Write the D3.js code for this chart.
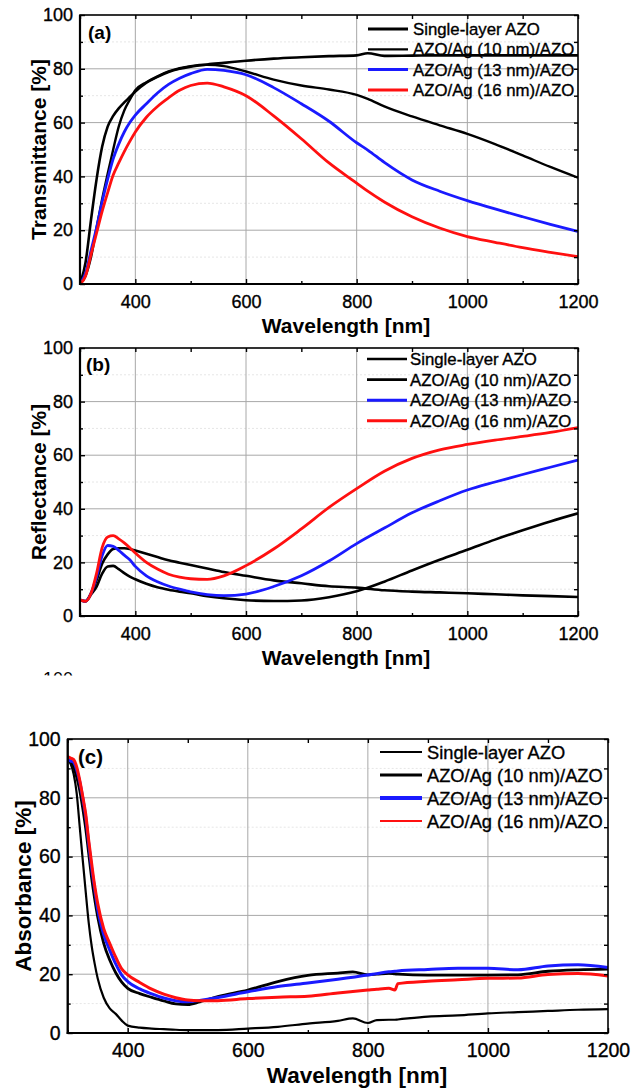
<!DOCTYPE html>
<html>
<head>
<meta charset="utf-8">
<script src="https://cdn.jsdelivr.net/npm/d3@7"></script>
<style>
  body { margin: 0; background: #fff; }
  svg { display: block; }
  text { font-family: "Liberation Sans", Arial, Helvetica, sans-serif; }
</style>
</head>
<body>
<svg id="fig" width="635" height="1091"></svg>
<script>
// ---- shared labels and ticks ----
const seriesNames = ["Single-layer AZO", "AZO/Ag (10 nm)/AZO", "AZO/Ag (13 nm)/AZO", "AZO/Ag (16 nm)/AZO"];
const seriesColors = ["#000000", "#000000", "#1a1aff", "#ff1010"];
const xTicks = [400, 600, 800, 1000, 1200];
const xMinor = [300, 500, 700, 900, 1100];
const yTicks = [0, 20, 40, 60, 80, 100];
const yMinor = [10, 30, 50, 70, 90];

// ---- (a) transmittance ----
const wlA = [300, 310, 320, 330, 340, 350, 360, 370, 380, 390, 400, 420, 440, 460, 480, 500, 530, 560, 600, 650, 700, 750, 800, 820, 850, 900, 950, 1000, 1050, 1100, 1150, 1200];
const transSingle = [0, 8, 24, 39, 51, 58.5, 62.5, 65.3, 67.5, 69.5, 71.5, 74.8, 77, 78.8, 80, 80.8, 81.6, 82.2, 83, 83.8, 84.3, 84.7, 85, 85.8, 84.8, 84.9, 85, 85, 85, 85, 85, 85];
const trans10 = [0, 3, 10, 21, 31.5, 41, 50, 58.5, 64.5, 68.5, 72, 75, 77.2, 79, 80.2, 81, 81.5, 81, 79, 76, 73.8, 72.3, 70.3, 68.8, 66, 62.3, 59, 55.8, 52, 47.8, 43.5, 39.5];
const trans13 = [0, 4, 12.5, 21, 30.5, 39, 46.5, 52, 56.5, 60, 62.8, 67, 71, 74.2, 76.5, 78.2, 79.8, 79.4, 77.8, 73, 67, 60.5, 52.5, 49.8, 45.2, 38.7, 34.5, 31, 27.9, 25, 22.2, 19.5];
const trans16 = [0, 3, 11, 19, 27, 34, 40.5, 45, 49.2, 53, 56.5, 62, 66, 69.2, 72, 73.8, 74.7, 73.3, 70, 62.5, 54, 45, 37.5, 34.5, 30.5, 25, 20.8, 17.6, 15.5, 13.5, 11.8, 10.2];

// ---- (b) reflectance ----
const wlB = [300, 310, 320, 330, 340, 350, 360, 370, 380, 390, 400, 420, 440, 460, 480, 500, 530, 560, 600, 650, 700, 750, 800, 850, 900, 950, 1000, 1050, 1100, 1150, 1200];
const reflSingle = [6, 5.5, 8.5, 13.4, 19.5, 23, 25, 25.3, 25.3, 25, 24.4, 23.2, 22, 20.8, 19.9, 19, 17.7, 16.4, 15, 13.3, 12.2, 11.1, 10.6, 9.6, 9.1, 8.8, 8.5, 8.1, 7.7, 7.4, 7.1];
const refl10 = [6, 5.5, 8, 11, 15.8, 18.5, 18.7, 17.5, 16, 14.7, 13.7, 12, 10.7, 9.8, 9.1, 8.5, 7.4, 6.6, 5.9, 5.6, 5.8, 7, 9.2, 12.8, 17, 21, 24.7, 28.5, 32, 35.3, 38.3];
const refl13 = [6, 5.5, 8.5, 14.7, 22.5, 26.3, 26, 24.5, 22.7, 21, 18.5, 15, 12.8, 11.2, 10, 9, 8, 7.6, 8.2, 11, 15, 20.5, 27, 32.8, 38.5, 43, 47, 50, 52.8, 55.5, 58.2];
const refl16 = [6, 5.5, 8.5, 16, 25.5, 29.5, 30, 28.8, 27.3, 25.5, 23.5, 20, 17.5, 15.6, 14.5, 13.9, 13.7, 15, 18.8, 25, 32.5, 40.5, 47.5, 54, 58.8, 62, 64, 65.6, 67, 68.5, 70.3];

// ---- (c) absorbance ----
const wlC = [300, 305, 310, 315, 320, 325, 330, 335, 340, 345, 350, 360, 370, 380, 390, 400, 420, 440, 460, 480, 500, 520, 550, 600, 650, 700, 750, 775, 800, 815, 835, 845, 850, 900, 950, 1000, 1050, 1100, 1150, 1200];
const absSingle = [92.9, 91.5, 88, 81.5, 70.2, 59, 48, 37.5, 29.5, 23.5, 18.5, 12, 8.4, 6.5, 4.2, 2.5, 1.8, 1.5, 1.3, 1.1, 1.0, 1.0, 1.0, 1.5, 2.1, 3.2, 4.1, 5, 3.4, 4.4, 4.5, 4.5, 4.6, 5.6, 6.0, 6.7, 7.1, 7.5, 7.9, 8.1];
const abs10 = [92.9, 92.2, 90.5, 87, 82.6, 76.5, 69.5, 61, 52.5, 45.5, 39.5, 30.5, 24.8, 20.5, 17.3, 15.2, 13.4, 12.1, 10.9, 9.9, 9.7, 10.6, 12.4, 14.6, 17.5, 19.6, 20.4, 20.8, 19.8, 20, 20.3, 20.1, 20, 19.7, 19.7, 19.7, 19.8, 21, 21.5, 21.7];
const abs13 = [93, 92.5, 92, 89.5, 85.5, 80, 73.5, 64.5, 56, 49, 42, 33.5, 28.2, 23.5, 19.7, 17.5, 15, 13.3, 11.9, 11, 10.6, 11.1, 12.1, 14, 15.8, 17, 18.3, 19, 19.7, 20.2, 20.8, 21, 21.1, 21.6, 22, 22, 21.5, 22.8, 23.2, 22.3];
const abs16 = [94, 93.5, 93, 90.5, 86, 80.5, 74.5, 65.5, 57.5, 50, 44, 35.5, 30.5, 25.8, 21.8, 19.8, 17.2, 14.9, 13.2, 12, 11.2, 11, 11, 11.7, 12.2, 12.5, 13.6, 14.1, 14.6, 14.9, 15.2, 14.6, 16.8, 17.6, 18.1, 18.6, 18.7, 19.9, 20.2, 19.4];

// ---- layout of the three panels ----
const panels = [
  { key: "a", label: "(a)", yTitle: "Transmittance [%]", wl: wlA, values: [transSingle, trans10, trans13, trans16],
    l: 80, t: 15, r: 578, b: 284, tickFs: 18, titleFs: 21, tickPad: 11,
    curveW: [2.6, 2.4, 2.8, 2.8], legendW: [3.2, 2.2, 3, 3],
    legend: { x0: 368, x1: 408, tx: 413, y0: 29, dy: 20.3, fs: 16.8 },
    xTitle: { x: 346, y: 333 }, yTitleX: 46, labelPos: { x: 88, y: 39 }, labelFs: 19 },
  { key: "b", label: "(b)", yTitle: "Reflectance [%]", wl: wlB, values: [reflSingle, refl10, refl13, refl16],
    l: 80, t: 348, r: 578, b: 616, tickFs: 18, titleFs: 21, tickPad: 11,
    curveW: [2.6, 2.6, 2.8, 2.8], legendW: [2.6, 2.6, 3, 3],
    legend: { x0: 367, x1: 407, tx: 410, y0: 359, dy: 20.6, fs: 16.8 },
    xTitle: { x: 346, y: 665 }, yTitleX: 46, labelPos: { x: 86, y: 371 }, labelFs: 19 },
  { key: "c", label: "(c)", yTitle: "Absorbance [%]", wl: wlC, values: [absSingle, abs10, abs13, abs16],
    l: 67.7, t: 739, r: 608, b: 1033, tickFs: 19.5, titleFs: 22.5, tickPad: 10.5,
    curveW: [2.2, 2.8, 3, 3], legendW: [1.8, 3.2, 4, 2.2],
    legend: { x0: 380, x1: 422, tx: 427, y0: 752, dy: 23, fs: 18.3 },
    xTitle: { x: 357, y: 1083 }, yTitleX: 31, labelPos: { x: 78, y: 764 }, labelFs: 20.5 }
];

const svg = d3.select("#fig");
svg.append("rect").attr("width", 635).attr("height", 1091).attr("fill", "#fff");

function drawPanel(p) {
  const g = svg.append("g").attr("class", "panel-" + p.key);
  const x = d3.scaleLinear().domain([300, 1200]).range([p.l, p.r]);
  const y = d3.scaleLinear().domain([0, 100]).range([p.b, p.t]);

  // faint minor grid
  g.append("g").selectAll("line").data(yMinor).join("line")
    .attr("x1", p.l).attr("x2", p.r).attr("y1", d => y(d)).attr("y2", d => y(d))
    .attr("stroke", "#e6e6e6").attr("stroke-width", 1).attr("stroke-dasharray", "2,2");

  // major grid
  g.append("g").selectAll("line").data(xTicks.filter(d => d < 1200)).join("line")
    .attr("x1", d => x(d)).attr("x2", d => x(d)).attr("y1", p.t).attr("y2", p.b)
    .attr("stroke", "#a8a8a8").attr("stroke-width", 1);
  g.append("g").selectAll("line").data(yTicks.filter(d => d > 0 && d < 100)).join("line")
    .attr("x1", p.l).attr("x2", p.r).attr("y1", d => y(d)).attr("y2", d => y(d))
    .attr("stroke", "#a8a8a8").attr("stroke-width", 1);

  // clip region = plot area
  const clipId = "clip-" + p.key;
  svg.append("defs").append("clipPath").attr("id", clipId)
    .append("rect").attr("x", p.l).attr("y", p.t).attr("width", p.r - p.l).attr("height", p.b - p.t);

  const inner = g.append("g").attr("clip-path", `url(#${clipId})`);
  const line = d3.line().x((d, i) => x(p.wl[i])).y(d => y(d)).curve(d3.curveMonotoneX);

  // black curves first, coloured ones on top
  [0, 1, 2, 3].forEach(si => {
    inner.append("path").datum(p.values[si])
      .attr("d", line)
      .attr("fill", "none")
      .attr("stroke", seriesColors[si])
      .attr("stroke-width", p.curveW[si])
      .attr("stroke-linejoin", "round");
  });

  // legend
  const lg = inner.append("g");
  seriesNames.forEach((name, i) => {
    const yy = p.legend.y0 + i * p.legend.dy;
    lg.append("line").attr("x1", p.legend.x0).attr("x2", p.legend.x1).attr("y1", yy).attr("y2", yy)
      .attr("stroke", seriesColors[i]).attr("stroke-width", p.legendW[i]);
    lg.append("text").attr("x", p.legend.tx).attr("y", yy).attr("dy", "0.36em")
      .attr("font-size", p.legend.fs).attr("fill", "#000")
      .attr("stroke", "#000").attr("stroke-width", 0.35)
      .text(name);
  });

  // axes: inward ticks on all four sides
  const styleAxis = sel => {
    sel.select(".domain").remove();
    sel.selectAll(".tick line").attr("stroke", "#000").attr("stroke-width", 1.4);
    sel.selectAll("text").attr("font-size", p.tickFs).attr("fill", "#000")
      .attr("font-family", '"Liberation Sans", Arial, sans-serif')
      .attr("stroke", "#000").attr("stroke-width", 0.35);
  };
  g.append("g").attr("transform", `translate(0,${p.b})`)
    .call(d3.axisBottom(x).tickValues(xTicks).tickSize(-5).tickPadding(p.tickPad).tickFormat(d3.format("d")))
    .call(styleAxis);
  g.append("g").attr("transform", `translate(0,${p.b})`)
    .call(d3.axisBottom(x).tickValues(xMinor).tickSize(-3).tickFormat(""))
    .call(styleAxis);
  g.append("g").attr("transform", `translate(0,${p.t})`)
    .call(d3.axisTop(x).tickValues(xTicks.concat(xMinor)).tickSize(-4).tickFormat(""))
    .call(styleAxis);
  g.append("g").attr("transform", `translate(${p.l},0)`)
    .call(d3.axisLeft(y).tickValues(yTicks).tickSize(-5).tickPadding(7).tickFormat(d3.format("d")))
    .call(styleAxis);
  g.append("g").attr("transform", `translate(${p.l},0)`)
    .call(d3.axisLeft(y).tickValues(yMinor).tickSize(-3).tickFormat(""))
    .call(styleAxis);
  g.append("g").attr("transform", `translate(${p.r},0)`)
    .call(d3.axisRight(y).tickValues(yTicks.concat(yMinor)).tickSize(-4).tickFormat(""))
    .call(styleAxis);

  // frame
  g.append("rect").attr("x", p.l).attr("y", p.t).attr("width", p.r - p.l).attr("height", p.b - p.t)
    .attr("fill", "none").attr("stroke", "#000").attr("stroke-width", 1.6);
  g.append("line").attr("x1", p.l).attr("x2", p.l).attr("y1", p.t).attr("y2", p.b + 1)
    .attr("stroke", "#000").attr("stroke-width", 2.2);
  g.append("line").attr("x1", p.l - 1).attr("x2", p.r).attr("y1", p.b).attr("y2", p.b)
    .attr("stroke", "#000").attr("stroke-width", 2.2);

  // titles
  g.append("text").attr("x", p.xTitle.x).attr("y", p.xTitle.y).attr("text-anchor", "middle")
    .attr("font-size", p.titleFs).attr("font-weight", "bold").attr("fill", "#000")
    .text("Wavelength [nm]");
  g.append("text")
    .attr("transform", `translate(${p.yTitleX},${(p.t + p.b) / 2}) rotate(-90)`)
    .attr("text-anchor", "middle")
    .attr("font-size", p.titleFs).attr("font-weight", "bold").attr("fill", "#000")
    .text(p.yTitle);
  g.append("text").attr("x", p.labelPos.x).attr("y", p.labelPos.y)
    .attr("font-size", p.labelFs).attr("font-weight", "bold").attr("fill", "#000")
    .text(p.label);
}

panels.forEach(drawPanel);

// sliver of a tick label cut off between panels (b) and (c)
svg.append("defs").append("clipPath").attr("id", "clip-sliver")
  .append("rect").attr("x", 30).attr("y", 671).attr("width", 60).attr("height", 4.5);
svg.append("text").attr("clip-path", "url(#clip-sliver)")
  .attr("x", 73).attr("y", 685).attr("text-anchor", "end")
  .attr("font-size", 18).attr("fill", "#000").text("100");
</script>
</body>
</html>
